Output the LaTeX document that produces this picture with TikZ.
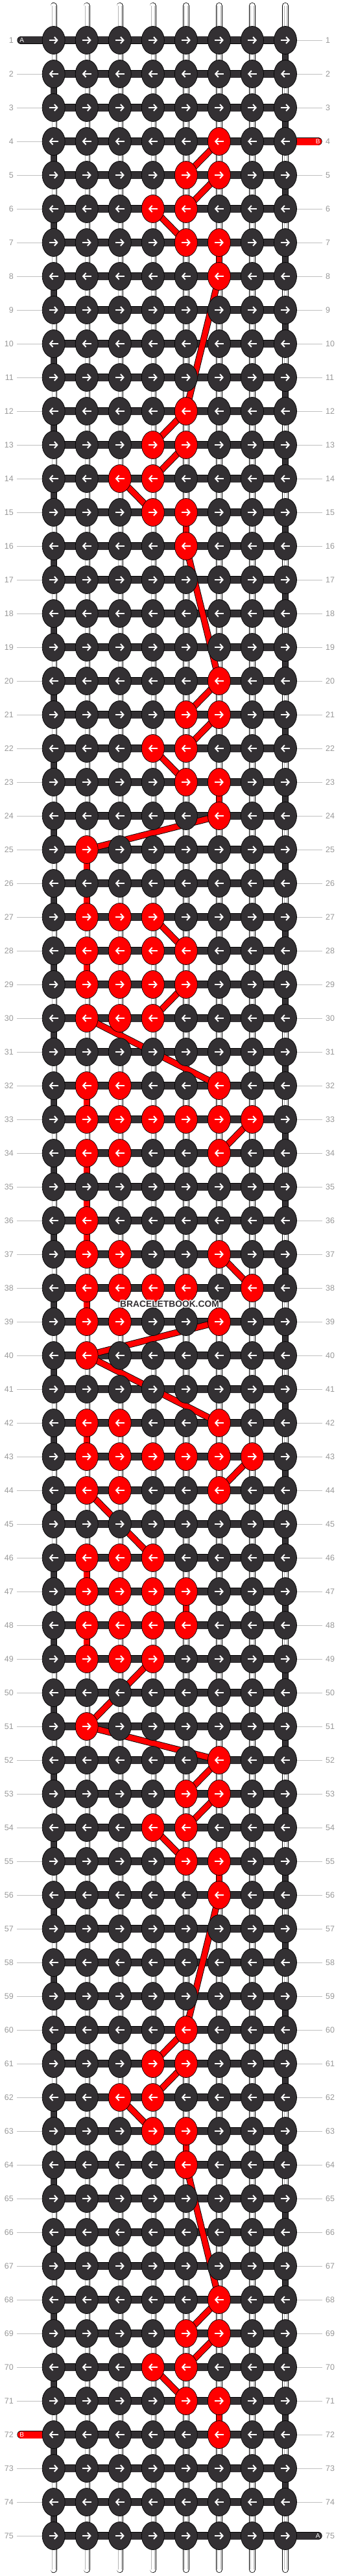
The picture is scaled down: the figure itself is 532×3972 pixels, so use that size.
\documentclass[tikz,border=0pt]{standalone}
\usepackage{fontspec}
\setmainfont{Liberation Sans}
\usepackage{contour}
\contourlength{1.1pt}
\usetikzlibrary{arrows.meta,shapes.geometric}
\definecolor{knotdark}{HTML}{333033}
\definecolor{knotred}{HTML}{FF0000}
\definecolor{lblgray}{HTML}{999999}
\definecolor{linegray}{HTML}{C0C0C0}
\definecolor{stripegray}{HTML}{B4B4B4}
\def\whitename{white}
\pgfdeclarelayer{strands}
\pgfdeclarelayer{redpath}
\pgfsetlayers{strands,redpath,main}
\tikzset{
  knot/.style={ellipse, draw=black, line width=0.7pt, minimum width=35pt, minimum height=43pt, inner sep=0pt},
  knotarrow/.style={white, line width=2pt, -{Straight Barb[length=4.5pt,width=10pt]}},
  lbl/.style={text=lblgray, font=\fontsize{12.5}{13}\selectfont, inner sep=0pt},
  gline/.style={linegray, line width=0.9pt},
  conout/.style={black, line width=10.3pt},
  conin/.style={line width=8.7pt},
  stripe/.style={stripegray, line width=0.6pt},
  hbarout/.style={black, line width=12.6pt},
  hbarin/.style={knotdark, line width=11pt},
  redout/.style={black, line width=10.2pt},
  redin/.style={knotred, line width=8.4pt},
  stublbl/.style={text=white, font=\fontsize{10}{10}\selectfont, inner sep=0pt},
  wmark/.style={text=knotdark, font=\bfseries\fontsize{13.8}{14}\selectfont, inner sep=0pt}
}
\begin{document}
\begin{tikzpicture}[x=1pt,y=-1pt]
\useasboundingbox (0,0) rectangle (532,3972);
% red knots
\foreach \r/\c in {4/6,5/5,5/6,6/4,6/5,7/5,7/6,8/6,
  12/5,13/4,13/5,14/3,14/4,15/4,15/5,16/5,
  20/6,21/5,21/6,22/4,22/5,23/5,23/6,24/6,25/2,
  27/2,27/3,27/4,28/2,28/3,28/4,28/5,29/2,29/3,29/4,29/5,30/2,30/3,30/4,
  32/2,32/3,32/6,33/2,33/3,33/4,33/5,33/6,33/7,34/2,34/3,34/6,
  36/2,37/2,37/3,37/6,38/2,38/3,38/4,38/5,38/7,39/2,39/3,39/6,40/2,
  42/2,42/3,42/6,43/2,43/3,43/4,43/5,43/6,43/7,44/2,44/3,44/6,
  46/2,46/3,46/4,47/2,47/3,47/4,47/5,48/2,48/3,48/4,48/5,49/2,49/3,49/4,
  51/2,52/6,53/5,53/6,54/4,54/5,55/5,55/6,56/6,
  60/5,61/4,61/5,62/3,62/4,63/4,63/5,64/5,
  68/6,69/5,69/6,70/4,70/5,71/5,71/6,72/6}
  {\expandafter\gdef\csname rk-\r-\c\endcsname{}}
% red vertical passages (between row r and r+1)
\foreach \r/\c in {7/6,15/5,23/6,25/2,26/2,28/2,32/2,34/2,35/2,36/2,38/2,
  42/2,46/2,47/5,48/2,55/6,63/5,71/6}
  {\expandafter\gdef\csname rv-\r-\c\endcsname{}}
% knots
\foreach \r in {1,...,75}{
  \foreach \c in {1,...,8}{
    \ifcsname rk-\r-\c\endcsname\def\kc{knotred}\else\def\kc{knotdark}\fi
    \node[knot, fill=\kc] (k-\r-\c) at ({31.62+51.05*\c},{10+52*\r}) {};
    \ifodd\r\relax
      \draw[knotarrow] ([xshift=-7pt]k-\r-\c.center) -- ([xshift=7pt]k-\r-\c.center);
    \else
      \draw[knotarrow] ([xshift=7pt]k-\r-\c.center) -- ([xshift=-7pt]k-\r-\c.center);
    \fi
  }
}
% row labels
\foreach \r in {1,...,75}{
  \node[lbl, anchor=east] (ll-\r) at (21,{10+52*\r}) {\r};
  \node[lbl, anchor=west] (rl-\r) at (502,{10+52*\r}) {\r};
}
% stub ends
\coordinate (sA-1) at (32.7,62);
\coordinate (sB-4) at (490.4,218);
\coordinate (sB-72) at (32.7,3754);
\coordinate (sA-75) at (490.4,3910);
\node[stublbl] (tA-1) at (33.6,62) {A};
\node[stublbl] (tB-4) at (490.2,218) {B};
\node[stublbl] (tB-72) at (33.8,3754) {B};
\node[stublbl] (tA-75) at (490.2,3910) {A};
% watermark
\node[wmark] (wm) at (261.5,2011.5) {\contour{white}{BRACELETBOOK.COM}};

\begin{pgfonlayer}{strands}
  % label lines
  \foreach \r in {1,...,75}{
    \ifnum\r=1 \else\ifnum\r=72 \else
      \draw[gline] ([xshift=5pt]ll-\r.east) -- (k-\r-1.west);
    \fi\fi
    \ifnum\r=4 \else\ifnum\r=75 \else
      \draw[gline] (k-\r-8.east) -- ([xshift=-5pt]rl-\r.west);
    \fi\fi
  }
  % warp strings top and bottom
  \foreach \c in {1,...,8}{
    \coordinate (wt-\c) at ({31.62+51.05*\c},9);
    \coordinate (wb-\c) at ({31.62+51.05*\c},3962);
    \draw[conout, line cap=round] (wt-\c) -- (k-1-\c.center);
    \draw[conin, white, line cap=round] (wt-\c) -- (k-1-\c.center);
    \draw[stripe] ([xshift=-2.2pt]wt-\c) -- ([xshift=-2.2pt]k-1-\c.center);
    \draw[stripe] ([xshift=2.2pt]wt-\c) -- ([xshift=2.2pt]k-1-\c.center);
    \draw[conout, line cap=round] (k-75-\c.center) -- (wb-\c);
    \draw[conin, white, line cap=round] (k-75-\c.center) -- (wb-\c);
    \draw[stripe] ([xshift=-2.2pt]k-75-\c.center) -- ([xshift=-2.2pt]wb-\c);
    \draw[stripe] ([xshift=2.2pt]k-75-\c.center) -- ([xshift=2.2pt]wb-\c);
  }
  % vertical connectors
  \foreach \r in {1,...,74}{
    \pgfmathtruncatemacro\rn{\r+1}
    \foreach \c in {1,...,8}{
      \def\vt{white}
      \ifodd\r\relax \ifnum\c=8 \def\vt{knotdark}\fi \else \ifnum\c=1 \def\vt{knotdark}\fi \fi
      \ifcsname rv-\r-\c\endcsname \def\vt{knotred}\fi
      \draw[conout] (k-\r-\c.center) -- (k-\rn-\c.center);
      \draw[conin, \vt] (k-\r-\c.center) -- (k-\rn-\c.center);
      \ifx\vt\whitename
        \draw[stripe] ([xshift=-2.2pt]k-\r-\c.center) -- ([xshift=-2.2pt]k-\rn-\c.center);
        \draw[stripe] ([xshift=2.2pt]k-\r-\c.center) -- ([xshift=2.2pt]k-\rn-\c.center);
      \fi
    }
  }
  % horizontal working-string bars
  \foreach \r in {1,...,75}{
    \draw[hbarout] (k-\r-1.center) -- (k-\r-8.center);
    \draw[hbarin] (k-\r-1.center) -- (k-\r-8.center);
  }
  % stubs
  \draw[hbarout, line cap=round] (k-1-1.center) -- (sA-1);
  \draw[hbarin, line cap=round] (k-1-1.center) -- (sA-1);
  \draw[hbarout, line cap=round] (k-75-8.center) -- (sA-75);
  \draw[hbarin, line cap=round] (k-75-8.center) -- (sA-75);
  \draw[hbarout, line cap=round] (k-4-8.center) -- (sB-4);
  \draw[hbarin, knotred, line cap=round] (k-4-8.center) -- (sB-4);
  \draw[hbarout, line cap=round] (k-72-1.center) -- (sB-72);
  \draw[hbarin, knotred, line cap=round] (k-72-1.center) -- (sB-72);
\end{pgfonlayer}

\begin{pgfonlayer}{redpath}
  \foreach \ra/\ca/\rb/\cb in {4/6/5/5,5/6/6/5,6/4/7/5,8/6/12/5,12/5/13/4,13/5/14/4,14/3/15/4,
    16/5/20/6,20/6/21/5,21/6/22/5,22/4/23/5,24/6/25/2,27/4/28/5,29/5/30/4,30/2/32/6,
    33/7/34/6,37/6/38/7,39/6/40/2,40/2/42/6,43/7/44/6,44/2/46/4,49/4/51/2,51/2/52/6,
    52/6/53/5,53/6/54/5,54/4/55/5,56/6/60/5,60/5/61/4,61/5/62/4,62/3/63/4,
    64/5/68/6,68/6/69/5,69/6/70/5,70/4/71/5}{
    \draw[redout] (k-\ra-\ca.center) -- (k-\rb-\cb.center);
    \draw[redin] (k-\ra-\ca.center) -- (k-\rb-\cb.center);
  }
\end{pgfonlayer}
\end{tikzpicture}
\end{document}
